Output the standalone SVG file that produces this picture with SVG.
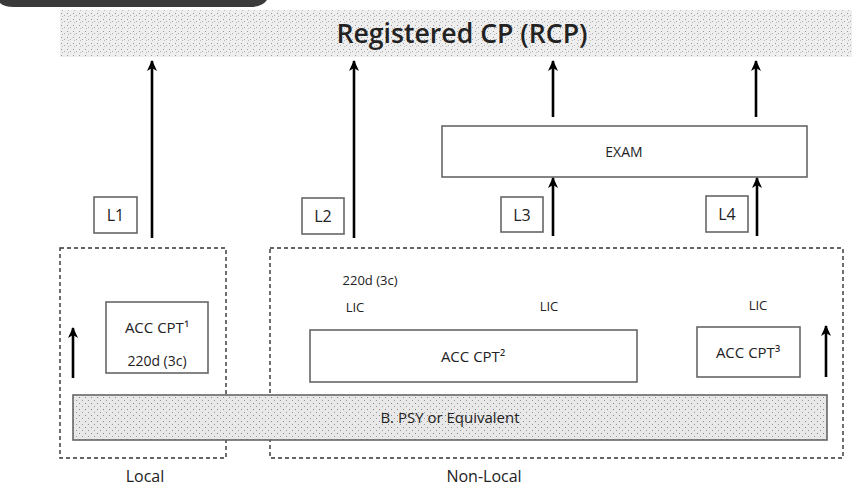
<svg xmlns="http://www.w3.org/2000/svg" width="852" height="489" viewBox="0 0 852 489">
<style>
  .t { font-family: "Open Sans", "Liberation Sans", sans-serif; fill: #222; text-anchor: middle; }
  .box { fill: #fff; stroke: #666; stroke-width: 1.6; }
  .dash { fill: none; stroke: #333; stroke-width: 1.4; stroke-dasharray: 4 3; }
  .arr { stroke: #000; stroke-width: 2.6; fill: none; marker-end: url(#ah); }
</style>
<defs>
  <marker id="ah" viewBox="0 0 10 12" refX="5" refY="1" markerWidth="10" markerHeight="12" markerUnits="userSpaceOnUse" orient="0">
    <path d="M5,0 L10,11 L5,8 L0,11 Z" fill="#000"/>
  </marker>
  <pattern id="dots" width="6" height="6" patternUnits="userSpaceOnUse">
    <rect width="6" height="6" fill="#eeeeee"/>
    <rect x="1" y="1" width="1" height="1" fill="#999"/>
    <rect x="4" y="3" width="1" height="1" fill="#aaa"/>
    <rect x="2" y="4" width="1" height="1" fill="#bbb"/>
  </pattern>
  <pattern id="dots2" width="6" height="6" patternUnits="userSpaceOnUse">
    <rect width="6" height="6" fill="#e8e8e8"/>
    <rect x="1" y="1" width="1" height="1" fill="#888"/>
    <rect x="4" y="4" width="1" height="1" fill="#999"/>
  </pattern>
</defs>

<g id="corner">
  <path d="M0,0 H267 Q262,7 250,7 H14 Q4,7 0,3 Z" fill="#3a3a3a"/>
</g>

<g id="rcp">
  <rect x="60" y="10" width="792" height="47" fill="url(#dots)"/>
  <text class="t" x="462" y="43" font-size="27" font-weight="600" textLength="251" lengthAdjust="spacingAndGlyphs">Registered CP (RCP)</text>
</g>

<g id="local-region">
  <rect class="dash" x="60" y="248" width="166" height="210"/>
  <text class="t" x="145" y="482" font-size="16">Local</text>
</g>

<g id="nonlocal-region">
  <rect class="dash" x="270" y="248" width="573" height="210"/>
  <text class="t" x="484" y="482" font-size="16">Non-Local</text>
</g>

<g id="bpsy">
  <rect x="73" y="395" width="754" height="45" fill="url(#dots2)" stroke="#666" stroke-width="1.6"/>
  <text class="t" x="450" y="423" font-size="15" fill="#333">B. PSY or Equivalent</text>
</g>

<g id="acc1">
  <rect class="box" x="106" y="302" width="102" height="71"/>
  <text class="t" x="157" y="333" font-size="15">ACC CPT¹</text>
  <text class="t" x="157" y="366" font-size="14">220d (3c)</text>
</g>

<g id="acc2">
  <rect class="box" x="310" y="330" width="327" height="52"/>
  <text class="t" x="473" y="362" font-size="15">ACC CPT²</text>
</g>

<g id="acc3">
  <rect class="box" x="697" y="327" width="103" height="50"/>
  <text class="t" x="748" y="358" font-size="15">ACC CPT³</text>
</g>

<g id="labels">
  <text class="t" x="370" y="285" font-size="13">220d (3c)</text>
  <text class="t" x="355" y="312" font-size="13">LIC</text>
  <text class="t" x="549" y="311" font-size="13">LIC</text>
  <text class="t" x="758" y="310" font-size="13">LIC</text>
</g>

<g id="exam">
  <rect class="box" x="442" y="126" width="365" height="51"/>
  <text class="t" x="624" y="157" font-size="14" fill="#444">EXAM</text>
</g>

<g id="L1"><rect class="box" x="94" y="197" width="43" height="36"/><text class="t" x="115.5" y="221" font-size="16">L1</text></g>
<g id="L2"><rect class="box" x="302" y="198" width="42" height="36"/><text class="t" x="323" y="222" font-size="16">L2</text></g>
<g id="L3"><rect class="box" x="501" y="197" width="42" height="35"/><text class="t" x="522" y="221" font-size="16">L3</text></g>
<g id="L4"><rect class="box" x="706" y="196" width="42" height="36"/><text class="t" x="727" y="220" font-size="16">L4</text></g>

<g id="connectors">
  <line class="arr" x1="152" y1="238" x2="152" y2="61"/>
  <line class="arr" x1="354" y1="238" x2="354" y2="61"/>
  <line class="arr" x1="553" y1="117" x2="553" y2="61"/>
  <line class="arr" x1="756" y1="117" x2="756" y2="61"/>
  <line class="arr" x1="553" y1="236" x2="553" y2="178"/>
  <line class="arr" x1="757" y1="236" x2="757" y2="178"/>
  <line class="arr" x1="73" y1="378" x2="73" y2="328"/>
  <line class="arr" x1="826" y1="377" x2="826" y2="326"/>
</g>
</svg>
